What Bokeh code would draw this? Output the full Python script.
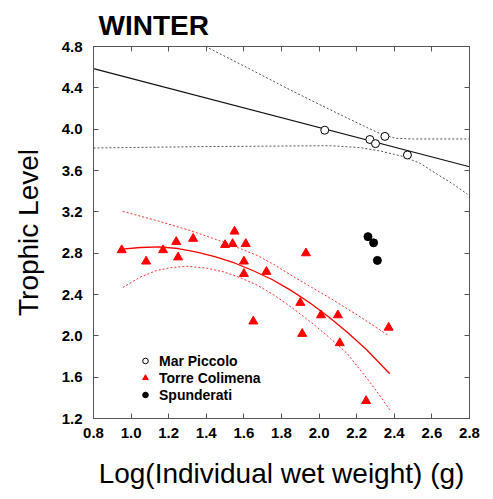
from bokeh.plotting import figure
from bokeh.models import (Range1d, FixedTicker, PrintfTickFormatter, LinearAxis,
                          Legend, LegendItem)
from bokeh.embed import file_html
from bokeh.resources import INLINE

FONT = "Liberation Sans"

# ---- data ----
x_ticks = [0.8, 1.0, 1.2, 1.4, 1.6, 1.8, 2.0, 2.2, 2.4, 2.6, 2.8]
y_ticks = [1.2, 1.6, 2.0, 2.4, 2.8, 3.2, 3.6, 4.0, 4.4, 4.8]

mp_x = [2.03, 2.27, 2.30, 2.35, 2.47]
mp_y = [3.99, 3.90, 3.86, 3.93, 3.75]

sp_x = [2.26, 2.29, 2.31]
sp_y = [2.96, 2.90, 2.73]

tc_x = [0.95, 1.08, 1.17, 1.24, 1.25, 1.33, 1.50, 1.54, 1.55, 1.61, 1.60, 1.60,
        1.72, 1.65, 1.90, 2.01, 2.10, 1.91, 2.11, 2.37, 2.25, 1.93]
tc_y = [2.83, 2.72, 2.83, 2.91, 2.76, 2.94, 2.88, 2.89, 3.01, 2.89, 2.72, 2.60,
        2.62, 2.14, 2.32, 2.20, 2.20, 2.02, 1.93, 2.08, 1.37, 2.80]

# Mar Piccolo fit and band
mp_fit_x = [0.80, 2.80]
mp_fit_y = [4.586, 3.636]
mp_up_x = [1.396, 1.635, 1.848, 2.061, 2.236, 2.327, 2.406, 2.502, 2.800]
mp_up_y = [4.800, 4.579, 4.378, 4.186, 4.032, 3.955, 3.912, 3.905, 3.905]
mp_lo_x = [0.80, 1.369, 2.061, 2.220, 2.327, 2.449, 2.539, 2.630, 2.715, 2.789]
mp_lo_y = [3.818, 3.831, 3.840, 3.821, 3.788, 3.735, 3.668, 3.562, 3.466, 3.370]

# Torre Colimena fit and band
tc_fit_x = [0.95, 1.05, 1.15, 1.25, 1.35, 1.45, 1.55, 1.65, 1.75, 1.85,
            1.95, 2.05, 2.15, 2.25, 2.376]
tc_fit_y = [2.840, 2.855, 2.860, 2.845, 2.810, 2.765, 2.705, 2.630, 2.545, 2.440,
            2.320, 2.185, 2.035, 1.870, 1.633]
tc_up_x = [0.956, 1.139, 1.316, 1.493, 1.671, 1.760, 1.848, 1.960, 2.061, 2.203, 2.371]
tc_up_y = [3.204, 3.114, 3.018, 2.907, 2.778, 2.690, 2.590, 2.470, 2.362, 2.202, 2.000]
tc_lo_x = [0.956, 1.050, 1.139, 1.220, 1.298, 1.400, 1.493, 1.580, 1.671, 1.760,
           1.848, 1.972, 2.060, 2.149, 2.256, 2.320, 2.380]
tc_lo_y = [2.468, 2.570, 2.634, 2.662, 2.673, 2.656, 2.619, 2.563, 2.490, 2.395,
           2.283, 2.110, 1.975, 1.830, 1.585, 1.430, 1.275]

p = figure(width=485, height=491, output_backend="svg", toolbar_location=None,
           x_range=Range1d(0.8, 2.8), y_range=Range1d(1.2, 4.8),
           min_border_left=93, min_border_right=16, min_border_top=46,
           min_border_bottom=70, x_axis_label="Log(Individual wet weight) (g)",
           y_axis_label="Trophic Level")
p.grid.visible = False
p.outline_line_color = "#555555"
p.background_fill_color = "white"
p.border_fill_color = "white"

p.title.text = "WINTER"
p.title.text_font = FONT
p.title.text_font_size = "28px"
p.title.text_font_style = "bold"
p.title.text_color = "black"
p.title.align = "left"
p.title.offset = 5
p.title.standoff = 12

for ax in p.xaxis:
    ax.ticker = FixedTicker(ticks=x_ticks)
for ax in p.yaxis:
    ax.ticker = FixedTicker(ticks=y_ticks)

def style_axis(ax, labels=True):
    ax.formatter = PrintfTickFormatter(format="%.1f")
    ax.major_tick_in = 5
    ax.major_tick_out = 0
    ax.minor_tick_in = 0
    ax.minor_tick_out = 0
    ax.axis_line_color = "#555555"
    ax.major_tick_line_color = "#555555"
    ax.major_label_text_font = FONT
    ax.major_label_text_font_size = "15px"
    ax.major_label_text_font_style = "bold"
    ax.major_label_text_color = "black"
    ax.axis_label_text_font = FONT
    ax.axis_label_text_font_size = "28px"
    ax.axis_label_text_font_style = "normal"
    ax.axis_label_text_color = "black"
    if not labels:
        ax.major_label_text_color = None
        ax.major_label_text_font_size = "1px"
        ax.major_label_standoff = 0

style_axis(p.xaxis[0])
style_axis(p.yaxis[0])
p.xaxis[0].major_label_standoff = 9
p.xaxis[0].axis_label_standoff = 17
p.yaxis[0].major_label_standoff = 11
p.yaxis[0].axis_label_standoff = 15

top = LinearAxis(ticker=FixedTicker(ticks=x_ticks))
style_axis(top, labels=False)
p.add_layout(top, "above")
right = LinearAxis(ticker=FixedTicker(ticks=y_ticks))
style_axis(right, labels=False)
p.add_layout(right, "right")

# bands and fits
p.line(mp_up_x, mp_up_y, line_color="#555555", line_width=1, line_dash="2 2")
p.line(mp_lo_x, mp_lo_y, line_color="#555555", line_width=1, line_dash="2 2")
p.line(mp_fit_x, mp_fit_y, line_color="#111111", line_width=1.1)
p.line(tc_up_x, tc_up_y, line_color="#ff3030", line_width=1, line_dash="2 2")
p.line(tc_lo_x, tc_lo_y, line_color="#ff3030", line_width=1, line_dash="2 2")
p.line(tc_fit_x, tc_fit_y, line_color="#ff0000", line_width=1.3)

r_mp = p.scatter(mp_x, mp_y, marker="circle", size=8, fill_color="white",
                 line_color="black", line_width=1)
r_tc = p.scatter(tc_x, tc_y, marker="triangle", size=9, fill_color="#ff0000",
                 line_color="#ff0000")
r_sp = p.scatter(sp_x, sp_y, marker="circle", size=8, fill_color="black",
                 line_color="black")

legend = Legend(items=[LegendItem(label="Mar Piccolo", renderers=[r_mp]),
                       LegendItem(label="Torre Colimena", renderers=[r_tc]),
                       LegendItem(label="Spunderati", renderers=[r_sp])],
                location=(45, 15), padding=0, margin=0, spacing=0,
                label_height=17, glyph_height=17, glyph_width=14,
                label_standoff=7, border_line_alpha=0, background_fill_alpha=0,
                label_text_font=FONT, label_text_font_size="14px",
                label_text_font_style="bold", label_text_color="black")
p.add_layout(legend)

open("out.html", "w").write(file_html(p, INLINE))
